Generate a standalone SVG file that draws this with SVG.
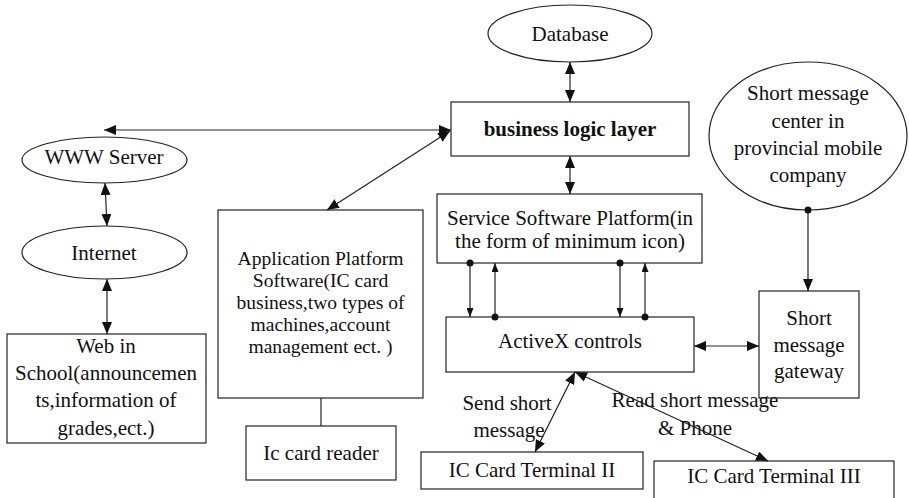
<svg xmlns="http://www.w3.org/2000/svg" width="909" height="498" viewBox="0 0 909 498">
<style>
.n{fill:#fff;stroke:#222;stroke-width:1.2}
.t{font-family:"Liberation Serif","Times New Roman",serif;font-size:21px;fill:#111;text-anchor:middle}
.s{font-size:19.6px}
.b{font-weight:bold}
.c{stroke:#222;stroke-width:1.2;fill:none}
.big{marker-start:url(#ah);marker-end:url(#ah)}
.sd{marker-start:url(#dot);marker-end:url(#sa)}
</style>
<defs>
<marker id="ah" viewBox="0 0 12 10" refX="12" refY="5" markerWidth="12" markerHeight="10" markerUnits="userSpaceOnUse" orient="auto-start-reverse"><path d="M0,0L12,5L0,10z" fill="#111"/></marker>
<marker id="sa" viewBox="0 0 9 7" refX="9" refY="3.5" markerWidth="9" markerHeight="7" markerUnits="userSpaceOnUse" orient="auto"><path d="M0,0L9,3.5L0,7z" fill="#111"/></marker>
<marker id="dot" viewBox="0 0 8 8" refX="4" refY="4" markerWidth="8" markerHeight="8" markerUnits="userSpaceOnUse"><circle cx="4" cy="4" r="3.5" fill="#111"/></marker>
</defs>
<g id="database"><ellipse class="n" cx="570" cy="33.5" rx="82" ry="28.5"/><text class="t" x="570" y="41">Database</text></g>
<g id="business"><rect class="n" x="451" y="102" width="238" height="54"/><text class="t b" x="570" y="136">business logic layer</text></g>
<g id="service"><rect class="n" x="437" y="194" width="265" height="69"/><text class="t" x="570" y="225">Service Software Platform(in</text><text class="t" x="570" y="248">the form of minimum icon)</text></g>
<g id="smc"><ellipse class="n" cx="808" cy="136" rx="99" ry="74"/><text class="t" x="808" y="100">Short message</text><text class="t" x="808" y="128">center in</text><text class="t" x="808" y="155">provincial mobile</text><text class="t" x="808" y="182">company</text></g>
<g id="www"><ellipse class="n" cx="104.5" cy="160" rx="82.5" ry="23"/><text class="t" x="104" y="164">WWW Server</text></g>
<g id="internet"><ellipse class="n" cx="104.5" cy="252.5" rx="82.5" ry="26.5"/><text class="t" x="104" y="260">Internet</text></g>
<g id="web"><rect class="n" x="7" y="334" width="199" height="109"/><text class="t" x="106" y="353">Web in</text><text class="t" x="106" y="380">School(announcemen</text><text class="t" x="106" y="407">ts,information of</text><text class="t" x="106" y="435">grades,ect.)</text></g>
<g id="app"><rect class="n" x="218" y="210" width="205" height="188"/><text class="t s" x="320.5" y="265">Application Platform</text><text class="t s" x="320.5" y="287">Software(IC card</text><text class="t s" x="320.5" y="309">business,two types of</text><text class="t s" x="320.5" y="331">machines,account</text><text class="t s" x="320.5" y="353">management ect. )</text></g>
<g id="reader"><rect class="n" x="246" y="426" width="150" height="54"/><text class="t" x="321" y="460">Ic card reader</text></g>
<g id="activex"><rect class="n" x="446" y="317" width="248" height="55"/><text class="t" x="570" y="348">ActiveX controls</text></g>
<g id="gateway"><rect class="n" x="759" y="291" width="100" height="107"/><text class="t" x="809" y="325">Short</text><text class="t" x="809" y="352">message</text><text class="t" x="809" y="378">gateway</text></g>
<g id="term2"><rect class="n" x="421" y="452" width="222" height="37"/><text class="t" x="532" y="477">IC Card Terminal II</text></g>
<g id="term3"><rect class="n" x="654" y="461" width="240" height="45"/><text class="t" x="774" y="483">IC Card Terminal III</text></g>
<g id="connectors">
<line class="c big" x1="104" y1="130" x2="451" y2="130"/>
<line class="c big" x1="327" y1="210" x2="450" y2="131"/>
<line class="c big" x1="105" y1="183" x2="107" y2="226"/>
<line class="c big" x1="107" y1="279" x2="107" y2="334"/>
<line class="c big" x1="570" y1="62" x2="570" y2="102"/>
<line class="c big" x1="570" y1="156" x2="570" y2="194"/>
<line class="c sd" x1="470" y1="263" x2="470" y2="317"/>
<line class="c sd" x1="495" y1="317" x2="495" y2="263"/>
<line class="c sd" x1="620" y1="263" x2="620" y2="317"/>
<line class="c sd" x1="645" y1="317" x2="645" y2="263"/>
<line class="c" x1="808" y1="210" x2="808" y2="291" marker-start="url(#dot)" marker-end="url(#ah)"/>
<line class="c big" x1="694" y1="346" x2="759" y2="346"/>
<line class="c big" x1="575" y1="372" x2="535" y2="452"/>
<line class="c big" x1="575" y1="372" x2="768" y2="461"/>
<line class="c" x1="321" y1="398" x2="321" y2="426"/>
<text class="t" x="507" y="410">Send short</text>
<text class="t" x="509" y="437">message</text>
<text class="t" x="695" y="407">Read short message</text>
<text class="t" x="695" y="435">&amp; Phone</text>
</g>
</svg>
